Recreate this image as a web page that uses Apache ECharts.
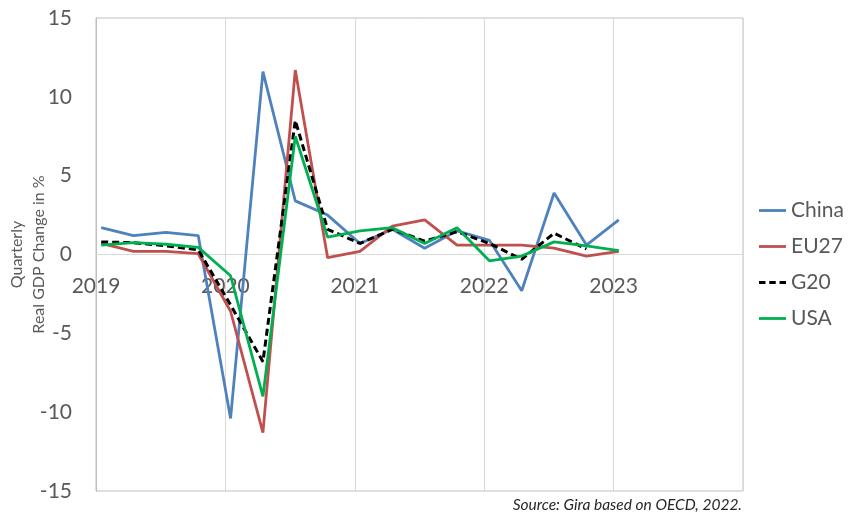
<!DOCTYPE html>
<html>
<head>
<meta charset="utf-8">
<script src="https://cdn.jsdelivr.net/npm/echarts@6/dist/echarts.min.js"></script>
<style>
html,body{margin:0;padding:0;background:#fff;}
#c{width:849px;height:515px;}
</style>
</head>
<body>
<div id="c"></div>
<script>
// Quarter categories (2019-Q1 .. 2023-Q1)
const quarters = ['2019-Q1','2019-Q2','2019-Q3','2019-Q4','2020-Q1','2020-Q2','2020-Q3','2020-Q4',
  '2021-Q1','2021-Q2','2021-Q3','2021-Q4','2022-Q1','2022-Q2','2022-Q3','2022-Q4','2023-Q1'];
// Quarterly real GDP change in %
const china = [1.7, 1.2, 1.4, 1.2, -10.4, 11.6, 3.4, 2.5, 0.7, 1.6, 0.4, 1.5, 0.9, -2.3, 3.9, 0.6, 2.2];
const eu27  = [0.7, 0.2, 0.2, 0.05, -3.6, -11.3, 11.7, -0.2, 0.2, 1.8, 2.2, 0.6, 0.6, 0.6, 0.4, -0.1, 0.2];
const g20   = [0.8, 0.75, 0.55, 0.3, -3.2, -6.8, 8.5, 1.6, 0.7, 1.6, 0.85, 1.45, 0.7, -0.3, 1.35, 0.35];
const usa   = [0.6, 0.75, 0.65, 0.45, -1.35, -9.0, 7.5, 1.1, 1.5, 1.7, 0.7, 1.7, -0.4, -0.1, 0.8, 0.55, 0.25];
// Axis tick labels
const yearTicks = [2019, 2020, 2021, 2022, 2023];
const yTicks = [-15, -10, -5, 0, 5, 10, 15];

// position of a quarter on the year axis (mid-month of the quarter's first month)
function qPos(q) {
  const [y, qq] = q.split('-Q');
  return Number(y) + (Number(qq) - 1) / 4 + 0.04;
}
function pairs(vals) { return vals.map((v, i) => [qPos(quarters[i]), v]); }

const FONT = 'Lato, "Noto Sans", sans-serif';
const GRID_TOP = 18, GRID_BOTTOM = 24, H = 515;
const plotH = H - GRID_TOP - GRID_BOTTOM;
const SOLID = 'path://M0,0H27V2.8H0Z';
const DASH = 'path://M0,0H6V3H0Z M9.5,0H15.5V3H9.5Z M19,0H25V3H19Z';

const chart = echarts.init(document.getElementById('c'), null, {renderer: 'canvas'});
chart.setOption({
  animation: false,
  backgroundColor: '#fff',
  grid: {left: 96, right: 106, top: GRID_TOP, bottom: GRID_BOTTOM, outerBoundsMode: 'none', containLabel: false,
    show: true, borderColor: '#bfbfbf', borderWidth: 1},
  xAxis: {
    type: 'value', min: 2019, max: 2024, interval: 1,
    // axis drawn along the zero line (middle of symmetric -15..15 range)
    offset: -plotH / 2,
    axisLine: {show: true, onZero: false, lineStyle: {color: '#d9d9d9', width: 1}},
    axisTick: {show: false},
    splitLine: {show: true, lineStyle: {color: '#d9d9d9', width: 1}},
    axisLabel: {
      margin: 21, color: '#595959', fontSize: 21, fontFamily: FONT,
      formatter: v => yearTicks.includes(v) ? String(v) : ''
    }
  },
  yAxis: {
    type: 'value', min: -15, max: 15, interval: 5,
    name: 'Quarterly\nReal GDP Change in %', nameLocation: 'middle', nameGap: 46,
    nameMoveOverlap: false,
    nameTextStyle: {color: '#595959', fontSize: 16, fontFamily: FONT, lineHeight: 22},
    axisLine: {show: true, lineStyle: {color: '#bfbfbf'}},
    axisTick: {show: false},
    splitLine: {show: false},
    axisLabel: {
      margin: 24, color: '#595959', fontSize: 21, fontFamily: FONT,
      formatter: v => yTicks.includes(v) ? String(v) : ''
    }
  },
  legend: {
    orient: 'vertical', left: 754, top: 195, itemGap: 15, itemWidth: 27, itemHeight: 14,
    textStyle: {color: '#595959', fontSize: 21, fontFamily: FONT},
    data: [
      {name: 'China', icon: SOLID},
      {name: 'EU27', icon: SOLID},
      {name: 'G20', icon: DASH},
      {name: 'USA', icon: SOLID}
    ]
  },
  series: [
    {name: 'China', type: 'line', data: pairs(china), symbol: 'none', color: '#4F81BD',
     lineStyle: {color: '#4F81BD', width: 2.8}},
    {name: 'EU27', type: 'line', data: pairs(eu27), symbol: 'none', color: '#C0504D',
     lineStyle: {color: '#C0504D', width: 2.8}},
    {name: 'G20', type: 'line', data: pairs(g20), symbol: 'none', color: '#000',
     lineStyle: {color: '#000', width: 3, type: [7, 4]}},
    {name: 'USA', type: 'line', data: pairs(usa), symbol: 'none', color: '#00B050',
     lineStyle: {color: '#00B050', width: 2.8}}
  ],
  graphic: [{
    type: 'text', right: 107, top: 497,
    style: {text: 'Source: Gira based on OECD, 2022.', fill: '#262626',
      font: 'italic 15.5px ' + FONT}
  }]
});
</script>
</body>
</html>
